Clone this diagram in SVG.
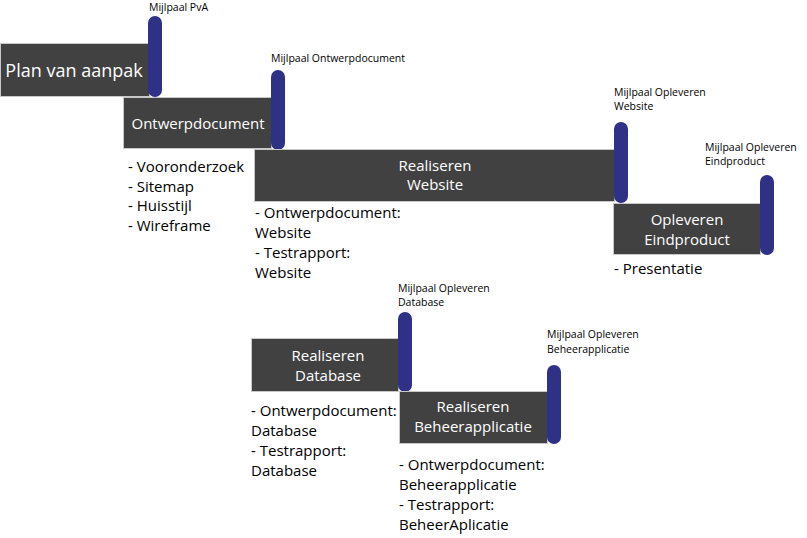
<svg xmlns="http://www.w3.org/2000/svg" width="807" height="538" viewBox="0 0 807 538">
<style>
.box{fill:#414141;stroke:#c8c8c8;stroke-width:1}
.ms{fill:#2e3185}
.bt{font-family:"Open Sans",sans-serif;fill:#ffffff;font-size:15px;text-anchor:middle}
.ml{font-family:"Open Sans",sans-serif;fill:#000000;font-size:10.5px}
.bl{font-family:"Open Sans",sans-serif;fill:#000000;font-size:15px}
</style>
<rect width="807" height="538" fill="#ffffff"/>
<g id="connectors"></g>
<g id="plan">
<rect class="box" x="0.5" y="43.5" width="149" height="53"/>
<text class="bt" x="74" y="77" style="font-size:18px">Plan van aanpak</text>
</g>
<g id="ms-pva">
<rect class="ms" x="148" y="16" width="14" height="81" rx="7"/>
<text class="ml" x="149" y="11">Mijlpaal PvA</text>
</g>
<g id="ontwerp">
<rect class="box" x="123.5" y="97.5" width="148" height="51"/>
<text class="bt" x="198" y="129">Ontwerpdocument</text>
<text class="bl" x="128" y="172">- Vooronderzoek</text>
<text class="bl" x="128" y="192">- Sitemap</text>
<text class="bl" x="128" y="211">- Huisstijl</text>
<text class="bl" x="128" y="231">- Wireframe</text>
</g>
<g id="ms-ontwerp">
<rect class="ms" x="271" y="70" width="14" height="80" rx="7"/>
<text class="ml" x="271" y="62">Mijlpaal Ontwerpdocument</text>
</g>
<g id="website">
<rect class="box" x="254.5" y="149.5" width="360" height="52"/>
<text class="bt" x="435" y="171">Realiseren</text>
<text class="bt" x="435" y="190">Website</text>
<text class="bl" x="255" y="218">- Ontwerpdocument:</text>
<text class="bl" x="255" y="238">Website</text>
<text class="bl" x="255" y="258">- Testrapport:</text>
<text class="bl" x="255" y="278">Website</text>
</g>
<g id="ms-website">
<rect class="ms" x="614" y="122" width="14" height="81" rx="7"/>
<text class="ml" x="614" y="96">Mijlpaal Opleveren</text>
<text class="ml" x="614" y="110">Website</text>
</g>
<g id="eindproduct">
<rect class="box" x="613.5" y="203.5" width="147" height="51"/>
<text class="bt" x="687" y="225">Opleveren</text>
<text class="bt" x="687" y="245">Eindproduct</text>
<text class="bl" x="614" y="274">- Presentatie</text>
</g>
<g id="ms-eindproduct">
<rect class="ms" x="760" y="175" width="14" height="80" rx="7"/>
<text class="ml" x="705" y="151">Mijlpaal Opleveren</text>
<text class="ml" x="705" y="165">Eindproduct</text>
</g>
<g id="database">
<rect class="box" x="251.5" y="338.5" width="147" height="53"/>
<text class="bt" x="328" y="361">Realiseren</text>
<text class="bt" x="328" y="381">Database</text>
<text class="bl" x="251" y="416">- Ontwerpdocument:</text>
<text class="bl" x="251" y="436">Database</text>
<text class="bl" x="251" y="456">- Testrapport:</text>
<text class="bl" x="251" y="476">Database</text>
</g>
<g id="ms-database">
<rect class="ms" x="398" y="312" width="14" height="80" rx="7"/>
<text class="ml" x="398" y="292">Mijlpaal Opleveren</text>
<text class="ml" x="398" y="306">Database</text>
</g>
<g id="beheer">
<rect class="box" x="399.5" y="391.5" width="148" height="52"/>
<text class="bt" x="473" y="412">Realiseren</text>
<text class="bt" x="473" y="432">Beheerapplicatie</text>
<text class="bl" x="399" y="470">- Ontwerpdocument:</text>
<text class="bl" x="399" y="490">Beheerapplicatie</text>
<text class="bl" x="399" y="510">- Testrapport:</text>
<text class="bl" x="399" y="530">BeheerAplicatie</text>
</g>
<g id="ms-beheer">
<rect class="ms" x="547" y="365" width="14" height="79" rx="7"/>
<text class="ml" x="547" y="338">Mijlpaal Opleveren</text>
<text class="ml" x="547" y="353">Beheerapplicatie</text>
</g>
</svg>
